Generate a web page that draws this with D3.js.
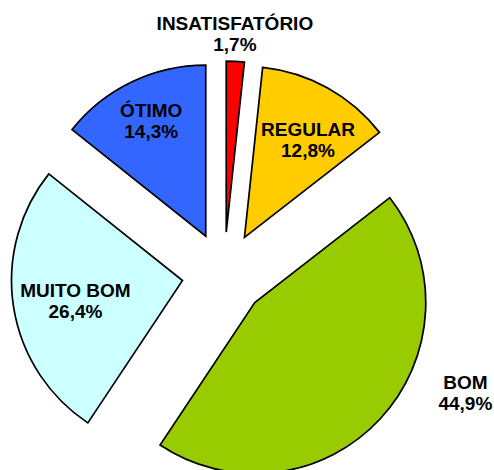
<!DOCTYPE html>
<html>
<head>
<meta charset="utf-8">
<script src="https://cdn.jsdelivr.net/npm/d3@7"></script>
<style>
  html, body { margin: 0; padding: 0; background: #ffffff; }
  svg { display: block; }
</style>
</head>
<body>
<script>
// ---- data ----
const categories = ["INSATISFATÓRIO", "REGULAR", "BOM", "MUITO BOM", "ÓTIMO"];
const values = [1.7, 12.8, 44.9, 26.4, 14.3];
const valueLabels = ["1,7%", "12,8%", "44,9%", "26,4%", "14,3%"];
const colors = ["#FF0000", "#FFCC00", "#99CC00", "#CCFFFF", "#3366FF"];

// ---- layout ----
const W = 494, H = 470;
const cx = 224, cy = 274, R = 171, explode = 42;
// label placement (polar, relative to pie centre): angle in degrees clockwise from 12 o'clock
const labelAngle = [2.6, 32.1, 116.2, 259.7, 334.5];
const labelRadius = [240, 158, 269, 151, 169];

const svg = d3.select("body").append("svg")
  .attr("width", W).attr("height", H);

const pie = d3.pie().sort(null).value(d => d)
  .startAngle(0).endAngle(2 * Math.PI);
const arcs = pie(values);
const arc = d3.arc().innerRadius(0).outerRadius(R);

const g = svg.append("g").attr("transform", `translate(${cx},${cy})`);

g.selectAll("path.slice").data(arcs).enter().append("path")
  .attr("class", "slice")
  .attr("d", arc)
  .attr("fill", (d, i) => colors[i])
  .attr("stroke", "#000")
  .attr("stroke-width", 1.7)
  .attr("stroke-linejoin", "miter")
  .attr("transform", d => {
    const a = (d.startAngle + d.endAngle) / 2;
    return `translate(${explode * Math.sin(a)},${-explode * Math.cos(a)})`;
  });

const labels = g.selectAll("text.lbl").data(arcs).enter().append("text")
  .attr("class", "lbl")
  .attr("text-anchor", "middle")
  .attr("font-family", "'Liberation Sans', Arial, sans-serif")
  .attr("font-weight", "bold")
  .attr("font-size", "19px")
  .attr("fill", "#000")
  .attr("transform", (d, i) => {
    const a = labelAngle[i] * Math.PI / 180;
    return `translate(${labelRadius[i] * Math.sin(a)},${-labelRadius[i] * Math.cos(a)})`;
  });

labels.append("tspan").attr("x", 0).attr("y", -4).text((d, i) => categories[i]);
labels.append("tspan").attr("x", 0).attr("y", 17).text((d, i) => valueLabels[i]);
</script>
</body>
</html>
